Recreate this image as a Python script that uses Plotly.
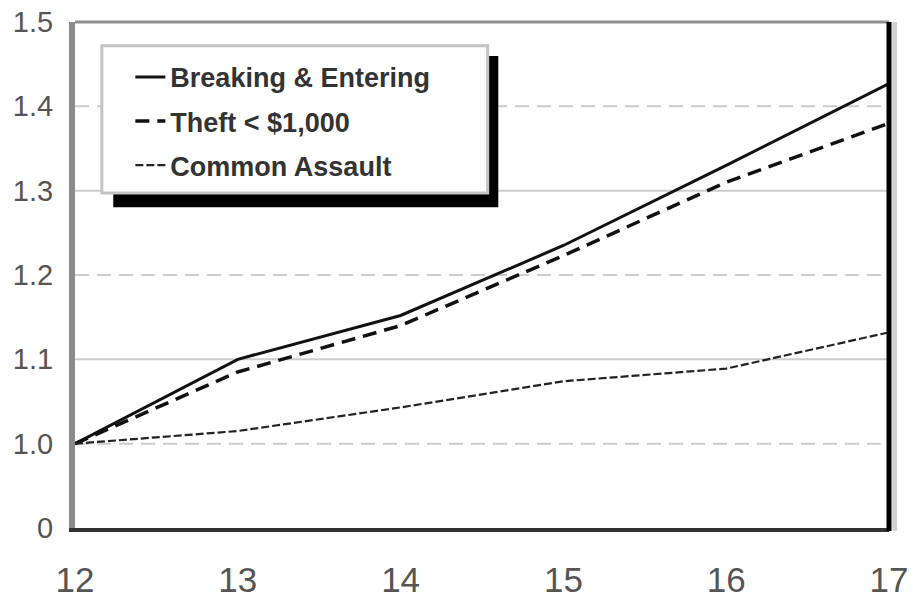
import plotly.graph_objects as go

# Index values by age (base age 12 = 1.0)
ages = [12, 13, 14, 15, 16, 17]
breaking_entering = [1.00, 1.10, 1.152, 1.235, 1.330, 1.427]
theft_under_1000 = [1.00, 1.085, 1.140, 1.223, 1.310, 1.380]
common_assault = [1.00, 1.015, 1.043, 1.074, 1.089, 1.132]

series_names = ["Breaking & Entering", "Theft < $1,000", "Common Assault"]

# Axis ticks; the lowest tick marks the broken axis and is labelled "0"
y_tickvals = [0.9, 1.0, 1.1, 1.2, 1.3, 1.4, 1.5]
y_ticktext = ["0", "1.0", "1.1", "1.2", "1.3", "1.4", "1.5"]
x_tickvals = ages
x_ticktext = [str(a) for a in ages]

dashed_grid = [1.0, 1.2, 1.4]
solid_grid = [1.1, 1.3]

fig = go.Figure()

fig.add_trace(go.Scatter(
    x=ages, y=breaking_entering, name=series_names[0], mode="lines",
    line=dict(color="#111111", width=3), legendgroup="a",
))
fig.add_trace(go.Scatter(
    x=ages, y=theft_under_1000, name=series_names[1], mode="lines",
    line=dict(color="#111111", width=3.5, dash="14px,8px"), legendgroup="b",
))
fig.add_trace(go.Scatter(
    x=ages, y=common_assault, name=series_names[2], mode="lines",
    line=dict(color="#222222", width=2.2, dash="8px,3px"), legendgroup="c",
))

shapes = []
# horizontal reference lines: alternating dashed and solid light grey
for v in dashed_grid:
    shapes.append(dict(type="line", xref="x domain", yref="y", x0=0, x1=1, y0=v, y1=v,
                       line=dict(color="#cccccc", width=2, dash="14px,8px"), layer="below"))
for v in solid_grid:
    shapes.append(dict(type="line", xref="x domain", yref="y", x0=0, x1=1, y0=v, y1=v,
                       line=dict(color="#cccccc", width=2), layer="below"))

# frame: top and right edges, plus a pale strip outside the right edge
shapes.append(dict(type="line", xref="paper", yref="paper", x0=0, x1=1, y0=1, y1=1,
                   line=dict(color="#8f8f8f", width=3), layer="above"))
shapes.append(dict(type="rect", xref="paper", yref="paper", x0=1.004, x1=1.010, y0=-0.006, y1=1.0,
                   fillcolor="#cfcfcf", line=dict(width=0), layer="above"))
shapes.append(dict(type="line", xref="paper", yref="paper", x0=1, x1=1, y0=-0.006, y1=1.0,
                   line=dict(color="#000000", width=5), layer="above"))

# legend panel with drop shadow
shapes.append(dict(type="rect", xref="paper", yref="paper", x0=0.047, x1=0.520, y0=0.634, y1=0.933,
                   fillcolor="#000000", line=dict(width=0), layer="above"))
shapes.append(dict(type="rect", xref="paper", yref="paper", x0=0.033, x1=0.507, y0=0.662, y1=0.953,
                   fillcolor="#ffffff", line=dict(color="#c4c4c4", width=3), layer="above"))

fig.update_layout(
    width=913, height=598,
    margin=dict(l=75, r=24, t=22, b=70, autoexpand=False),
    paper_bgcolor="#ffffff", plot_bgcolor="#ffffff",
    font=dict(family="Liberation Sans, Arial, sans-serif", color="#555555"),
    shapes=shapes,
    showlegend=True,
    legend=dict(
        x=0.068, y=0.939, xanchor="left", yanchor="top",
        bgcolor="rgba(0,0,0,0)", borderwidth=0,
        traceorder="grouped", tracegroupgap=6,
        font=dict(size=27, color="#333333",
                  family="Liberation Sans, Arial, sans-serif", weight="bold"),
    ),
    xaxis=dict(
        range=[12, 17], tickmode="array", tickvals=x_tickvals, ticktext=x_ticktext,
        showgrid=False, zeroline=False, ticks="", automargin=False,
        showline=True, linecolor="#333333", linewidth=4,
        tickfont=dict(size=35, color="#555555"),
        ticklabelstandoff=18,
    ),
    yaxis=dict(
        range=[0.9, 1.5], tickmode="array", tickvals=y_tickvals, ticktext=y_ticktext,
        showgrid=False, zeroline=False, ticks="", automargin=False,
        showline=True, linecolor="#8a8a8a", linewidth=6,
        tickfont=dict(size=29, color="#555555"),
        ticklabelstandoff=10,
    ),
)

fig.write_html("out.html")
